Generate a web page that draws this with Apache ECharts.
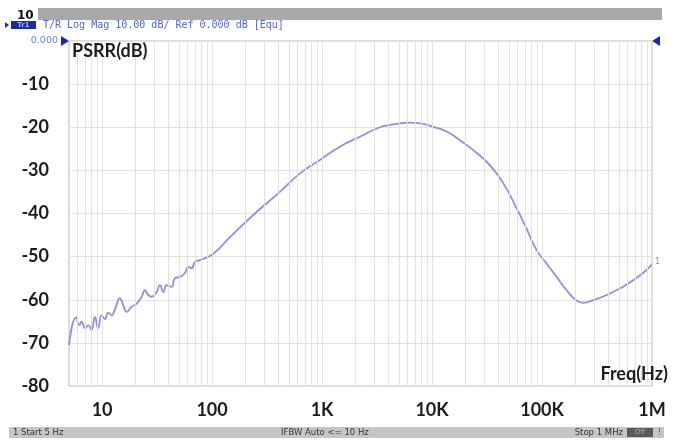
<!DOCTYPE html>
<html>
<head>
<meta charset="utf-8">
<script src="https://cdn.jsdelivr.net/npm/echarts@6/dist/echarts.min.js"></script>
<style>
    html, body {margin: 0; padding: 0; background: #fff;}
    #psrrChart {width: 686px; height: 443px;}
</style>
</head>
<body>
<div id="psrrChart"></div>
<script>
// trace (Hz / dB)
const freqHz = [5, 5.8, 6.2, 6.5, 7.0, 7.5, 8.0, 8.6, 9.2, 9.9,
    10.6, 11.4, 12.2, 13.1, 14.5, 15.6, 16.7, 18.6, 20.6, 22.9,
    24.5, 26.3, 28.2, 31.3, 33.6, 36, 38.6, 42.9, 46, 51,
    56.7, 60.7, 65.2, 69.9, 77.6, 102, 145, 245, 414, 630,
    957, 1450, 2210, 3360, 4140, 5100, 6300, 7760, 10250, 13580,
    17930, 23700, 31300, 38600, 46000, 56700, 69900, 89300, 110000, 135700,
    167300, 206300, 236900, 291800, 386000, 510000, 674000, 893000, 1000000];
const psrrDb = [-70.5, -64.1, -65.9, -65.1, -66.6, -65.9, -67, -64, -66.6, -63.6,
    -64.5, -63, -63.6, -62.2, -59.7, -61.3, -62.8, -61.6, -60.9, -59.3,
    -57.8, -58.9, -59.3, -58.2, -56.6, -58.2, -56.6, -57, -55, -54.7,
    -53.8, -52.4, -52.7, -51.2, -50.8, -49.4, -45.5, -40, -35, -30.7,
    -27.6, -24.5, -22.2, -20, -19.5, -19.1, -18.95, -19.1, -19.9, -21,
    -23, -25.3, -28, -30.7, -33.6, -38, -42.7, -48.5, -51.6, -54.7,
    -57.8, -60.2, -60.7, -60.1, -58.9, -57.4, -55.5, -53.1, -51.7];

// x axis labels
const decadeValues = [10, 100, 1000, 10000, 100000, 1000000];
const decadeLabels = ['10', '100', '1K', '10K', '100K', '1M'];

// log grid: 1..9 in every decade
const gridDecades = [1, 10, 100, 1000, 10000, 100000];
const gridSteps = [1, 2, 3, 4, 5, 6, 7, 8, 9];

const boldFont = 'Lato';

const getGridLines = () => {
    const lines = [];
    gridDecades.forEach(d => {
        gridSteps.forEach(k => {
            const f = d * k;
            if (f > 5 && f <= 1000000) lines.push({xAxis: f});
        });
    });
    lines.push({xAxis: 1000000});
    return lines;
};

const formatFreq = value => {
    const idx = decadeValues.findIndex(v => Math.abs(Math.log10(v) - Math.log10(value)) < 1e-6);
    return idx >= 0 ? decadeLabels[idx] : '';
};

const chart = echarts.init(document.getElementById('psrrChart'));

const option = {
    animation: false,
    backgroundColor: '#fff',
    grid: {
        left: 69, right: 34, top: 41, bottom: 57,
        show: true, borderColor: '#b8b8b8', borderWidth: 1,
    },
    xAxis: {
        type: 'log',
        logBase: 10,
        min: 5,
        max: 1000000,
        axisLine: {show: false},
        axisTick: {show: false},
        splitLine: {show: false},
        axisLabel: {
            formatter: formatFreq,
            margin: 15,
            color: '#1c1c1c',
            fontFamily: boldFont,
            fontWeight: 'bold',
            fontSize: 18,
            showMinLabel: false,
        },
    },
    yAxis: {
        type: 'value',
        min: -80,
        max: 0,
        interval: 10,
        axisLine: {show: false},
        axisTick: {show: false},
        splitLine: {lineStyle: {color: '#e2e2e2', width: 1}},
        axisLabel: {
            formatter: v => (v === 0 ? '' : String(v)),
            margin: 20,
            color: '#1c1c1c',
            fontFamily: boldFont,
            fontWeight: 'bold',
            fontSize: 18,
        },
    },
    series: [
        {
            // vertical grid lines
            type: 'line',
            data: [],
            z: 1,
            silent: true,
            markLine: {
                silent: true,
                symbol: 'none',
                label: {show: false},
                lineStyle: {color: '#e2e2e2', width: 1, type: 'solid'},
                data: getGridLines(),
            },
        },
        {
            name: 'PSRR',
            type: 'line',
            z: 3,
            data: freqHz.map((f, i) => [f, psrrDb[i]]),
            showSymbol: false,
            smooth: 0.5,
            lineStyle: {color: '#9090da', width: 1.8},
        },
    ],
    graphic: [
        // instrument header
        {type: 'rect', shape: {x: 38, y: 8, width: 624, height: 12}, style: {fill: '#a9a9a9'}},
        {type: 'text', style: {x: 17, y: 16, text: '10', font: 'bold 12px "DejaVu Sans"', fill: '#111', verticalAlign: 'middle'}},
        {type: 'polygon', shape: {points: [[5, 22], [9, 25], [5, 28]]}, style: {fill: '#1a2ab0'}},
        {type: 'rect', shape: {x: 11, y: 21, width: 25, height: 8}, style: {fill: '#1d2f96'}},
        {type: 'text', style: {x: 23.5, y: 25, text: 'Tr1', font: 'bold 7px "DejaVu Sans"', fill: '#9fb0ff', align: 'center', verticalAlign: 'middle'}},
        {type: 'text', style: {x: 43, y: 25.5, text: 'T/R Log Mag 10.00 dB/ Ref 0.000 dB [Equ]', font: '10px "DejaVu Sans Mono"', fill: '#5564c4', verticalAlign: 'middle'}},
        {type: 'text', style: {x: 58, y: 41, text: '0.000', font: '9.5px "DejaVu Sans"', fill: '#6a7fd0', align: 'right', verticalAlign: 'middle'}},
        {type: 'polygon', shape: {points: [[61, 36], [69, 41], [61, 46]]}, style: {fill: '#1a2ab0'}},
        {type: 'polygon', shape: {points: [[660, 36], [652, 41], [660, 46]]}, style: {fill: '#1a2ab0'}},
        {type: 'text', style: {x: 655, y: 262, text: '1', font: '8px "DejaVu Sans"', fill: '#8c8cd8', verticalAlign: 'middle'}},
        // axis titles
        {type: 'text', z: 10, style: {x: 72, y: 51, text: 'PSRR(dB)', font: 'bold 18px Lato', fill: '#1c1c1c', verticalAlign: 'middle'}},
        {type: 'text', z: 10, style: {x: 668, y: 374, text: 'Freq(Hz)', font: 'bold 18px Lato', fill: '#1c1c1c', align: 'right', verticalAlign: 'middle'}},
        // status bar
        {type: 'rect', shape: {x: 9, y: 427, width: 655, height: 11}, style: {fill: '#c6c6c6'}},
        {type: 'text', style: {x: 13, y: 432.5, text: '1', font: '8.5px "DejaVu Sans"', fill: '#333', verticalAlign: 'middle'}},
        {type: 'text', style: {x: 21, y: 432.5, text: 'Start 5 Hz', font: '8.5px "DejaVu Sans"', fill: '#333', verticalAlign: 'middle'}},
        {type: 'text', style: {x: 281, y: 432.5, text: 'IFBW Auto <= 10 Hz', font: '8.5px "DejaVu Sans"', fill: '#333', verticalAlign: 'middle'}},
        {type: 'text', style: {x: 623, y: 432.5, text: 'Stop 1 MHz', font: '8.5px "DejaVu Sans"', fill: '#333', align: 'right', verticalAlign: 'middle'}},
        {type: 'rect', shape: {x: 627, y: 428, width: 26, height: 9}, style: {fill: '#5a5a5a'}},
        {type: 'text', style: {x: 640, y: 432.5, text: 'Off', font: '7px "DejaVu Sans"', fill: '#aaa', align: 'center', verticalAlign: 'middle'}},
        {type: 'text', style: {x: 658, y: 432.5, text: '!', font: '8px "DejaVu Sans"', fill: '#555', verticalAlign: 'middle'}},
    ],
};

chart.setOption(option);
</script>
</body>
</html>
